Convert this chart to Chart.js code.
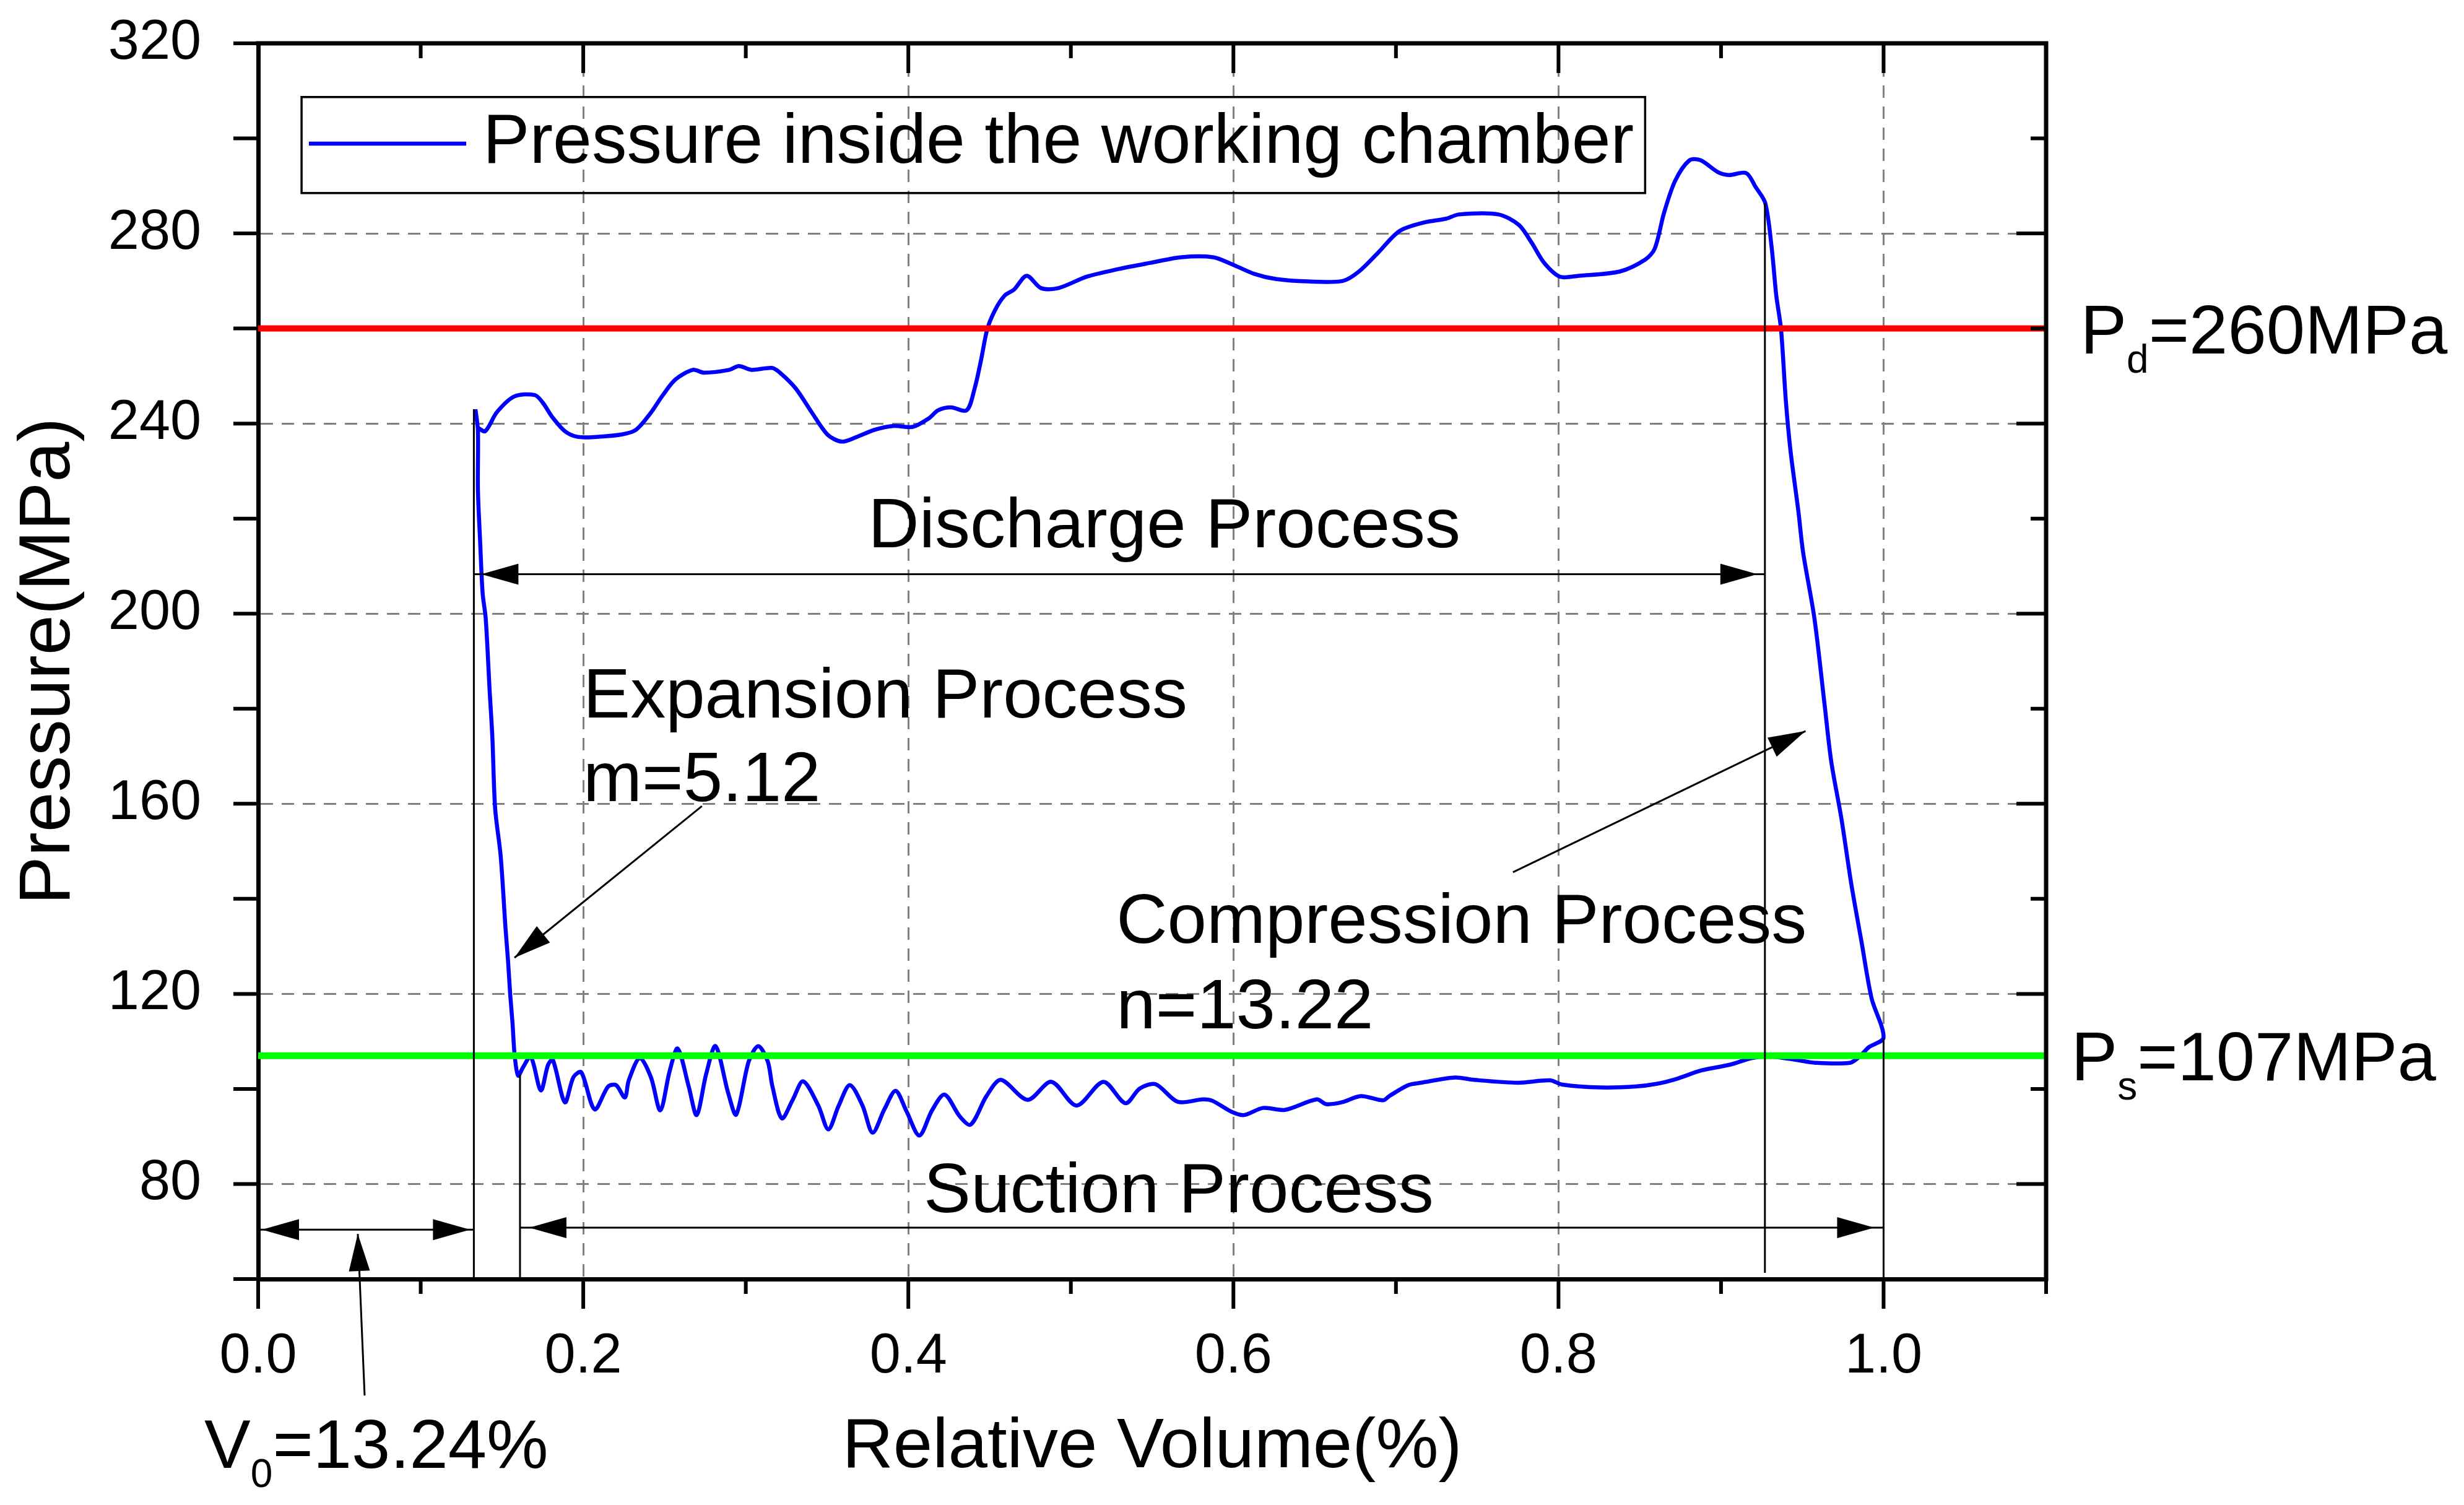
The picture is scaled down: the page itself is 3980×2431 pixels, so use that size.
<!DOCTYPE html>
<html>
<head>
<meta charset="utf-8">
<script src="https://cdn.jsdelivr.net/npm/chart.js@4.4.1/dist/chart.umd.min.js"></script>
<style>
  html, body { margin: 0; padding: 0; background: #fff; }
  canvas { display: block; }
</style>
</head>
<body>
<canvas id="pvChart" width="3980" height="2431"></canvas>
<script>
// relative volume / pressure loop
// order: expansion -> suction -> compression -> discharge
const volume = [
  0.1337, 0.1352, 0.1352, 0.1366, 0.1381, 0.1400, 0.1424, 0.1441, 0.1458, 0.1492,
  0.1522, 0.1537, 0.1551, 0.1565, 0.1578, 0.1599,
  0.1629, 0.1677, 0.1739, 0.1784, 0.1813, 0.1887, 0.1940, 0.1988, 0.2070, 0.2153,
  0.2202, 0.2256, 0.2280, 0.2348, 0.2416, 0.2474, 0.2532, 0.2581, 0.2649, 0.2698,
  0.2756, 0.2814, 0.2892, 0.2941, 0.3018, 0.3077, 0.3135, 0.3164, 0.3222, 0.3290,
  0.3353, 0.3446, 0.3508, 0.3572, 0.3640, 0.3718, 0.3780, 0.3854, 0.3922, 0.3990,
  0.4068, 0.4146, 0.4223, 0.4317, 0.4384, 0.4481, 0.4569, 0.4734, 0.4880, 0.5035,
  0.5200, 0.5336, 0.5424, 0.5521, 0.5657, 0.5813, 0.5871, 0.5988, 0.6065, 0.6182,
  0.6318, 0.6512, 0.6571, 0.6668, 0.6784, 0.6920, 0.6959, 0.7076, 0.7154, 0.7364,
  0.7481, 0.7753, 0.7947, 0.8025, 0.8258, 0.8472, 0.8608, 0.8725, 0.8880, 0.9055,
  0.9191, 0.9308, 0.9463, 0.9580, 0.9793, 0.9852, 0.9910, 1.0000,
  0.9926, 0.9864, 0.9802, 0.9740, 0.9678, 0.9637, 0.9575, 0.9505, 0.9476, 0.9428,
  0.9399, 0.9369, 0.9340, 0.9311, 0.9272,
  0.9214, 0.9155, 0.9049, 0.8981, 0.8874, 0.8806, 0.8718, 0.8650, 0.8592, 0.8534,
  0.8378, 0.8125, 0.8009, 0.7912, 0.7834, 0.7756, 0.7630, 0.7387, 0.7309, 0.7173,
  0.7022, 0.6886, 0.6769, 0.6672, 0.6458, 0.6264, 0.6128, 0.5992, 0.5875, 0.5681,
  0.5487, 0.5292, 0.5098, 0.4923, 0.4816, 0.4728, 0.4651, 0.4592, 0.4534, 0.4486,
  0.4447, 0.4408, 0.4359, 0.4262, 0.4184, 0.4126, 0.4027, 0.3911, 0.3794, 0.3677,
  0.3589, 0.3502, 0.3405, 0.3307, 0.3210, 0.3161, 0.3035, 0.2957, 0.2899, 0.2743,
  0.2675, 0.2568, 0.2490, 0.2412, 0.2325, 0.2237, 0.2082, 0.1965, 0.1887, 0.1809,
  0.1751, 0.1702, 0.1576, 0.1469, 0.1397, 0.1352
];
const pressure = [
  243.0, 238.5, 226.2, 214.9, 204.3, 199.0, 183.9, 173.9, 159.0, 149.0,
  133.7, 127.1, 119.7, 113.8, 107.1, 102.8,
  104.5, 106.8, 99.7, 105.1, 106.1, 97.2, 102.5, 103.5, 95.7, 100.5,
  100.8, 98.2, 101.8, 106.5, 102.5, 95.5, 103.8, 108.5, 100.5, 94.5,
  103.1, 109.0, 99.1, 94.6, 105.8, 109.0, 105.8, 100.5, 93.8, 97.8,
  101.6, 96.5, 91.5, 96.5, 100.8, 96.5, 90.8, 95.8, 99.6, 95.2,
  90.2, 95.5, 98.8, 94.2, 92.5, 98.5, 101.9, 97.7, 101.5, 96.5,
  101.5, 97.0, 100.1, 101.0, 97.3, 97.8, 97.5, 95.2, 94.5, 96.0,
  95.6, 97.8, 96.8, 97.2, 98.5, 97.6, 98.5, 100.8, 101.3, 102.4,
  101.9, 101.3, 101.8, 100.9, 100.3, 100.5, 101.1, 102.1, 103.9, 105.1,
  106.5, 106.8, 106.1, 105.5, 105.5, 106.8, 108.8, 110.8,
  119.1, 131.0, 143.0, 157.0, 168.9, 180.9, 198.9, 212.9, 221.5, 234.1,
  244.7, 259.9, 266.9, 277.2, 286.4,
  289.7, 292.7, 292.3, 292.9, 295.4, 295.4, 291.1, 284.4, 276.8, 274.5,
  272.0, 271.1, 270.9, 273.8, 278.1, 281.8, 284.0, 284.0, 283.1, 282.3,
  280.5, 275.8, 271.9, 270.0, 269.9, 270.4, 271.5, 273.5, 275.0, 275.0,
  273.8, 272.5, 270.9, 268.5, 268.5, 271.1, 268.2, 266.9, 263.9, 259.9,
  253.3, 247.4, 242.8, 243.4, 242.8, 241.1, 239.3, 239.5, 238.7, 237.1,
  236.2, 237.7, 242.4, 247.4, 250.7, 251.7, 251.3, 252.1, 251.3, 250.7,
  251.3, 249.3, 246.0, 242.1, 238.7, 237.7, 237.2, 237.2, 238.4, 241.4,
  244.4, 246.0, 245.7, 242.4, 238.4, 239.1
];

const seriesLabel = 'Pressure inside the working chamber';
const dischargePressure = 260;   // Pd
const suctionPressure = 107;     // Ps
const xRange = [0, 1.1];
const yRange = [60, 320];
const xTickValues = [0, 0.2, 0.4, 0.6, 0.8, 1.0];
const yTickValues = [80, 120, 160, 200, 240, 280, 320];

// annotation geometry, in data units
const guideLines = [   // [x, yFrom, yTo]
  [0.1327, 60, 243],
  [0.1611, 60, 103],
  [0.9270, 61.3, 286.4],
  [1.0000, 60, 110.6]
];
const arrows = [       // [x1, y1, x2, y2, headAtStart, headAtEnd, tipInset(px)]
  [0.1327, 208.3, 0.9270, 208.3, true, true, 12],
  [0.0000, 70.4, 0.1327, 70.4, true, true, 6],
  [0.1611, 70.8, 1.0000, 70.8, true, true, 15],
  [0.2730, 159.5, 0.1577, 127.6, false, true, 0],
  [0.7720, 145.6, 0.9520, 175.3, false, true, 0],
  [0.0655, 35.5, 0.0613, 69.5, false, true, 0]
];
const notes = [        // [text, x, y] left aligned, vertically centred
  ['Discharge Process', 0.3753, 218.0],
  ['Expansion Process', 0.2000, 182.2],
  ['m=5.12', 0.2000, 164.6],
  ['Compression Process', 0.5280, 134.8],
  ['n=13.22', 0.5280, 116.9],
  ['Suction Process', 0.4095, 78.2]
];

const FONT = '"Liberation Sans", Arial, sans-serif';
Chart.defaults.font.family = FONT;
Chart.defaults.color = '#000';

function pts(xs, ys) {
  return xs.map((v, i) => ({ x: v, y: ys[i] }));
}

function drawHead(ctx, tx, ty, ang) {
  const L = 60, W = 17;
  const c = Math.cos(ang), s = Math.sin(ang);
  ctx.beginPath();
  ctx.moveTo(tx, ty);
  ctx.lineTo(tx - L * c + W * s, ty - L * s - W * c);
  ctx.lineTo(tx - L * c - W * s, ty - L * s + W * c);
  ctx.closePath();
  ctx.fill();
}

// text with subscripts: parts = [[text, isSub], ...]
function drawParts(ctx, parts, x, baseline) {
  parts.forEach(([t, sub]) => {
    ctx.font = (sub ? '64px ' : '112px ') + FONT;
    ctx.fillText(t, x, sub ? baseline + 31 : baseline);
    x += ctx.measureText(t).width;
  });
}

const decor = {
  id: 'decor',
  afterDraw(chart) {
    const { ctx, chartArea: a, scales: { x, y } } = chart;
    const px = v => x.getPixelForValue(v);
    const py = v => y.getPixelForValue(v);
    ctx.save();

    // top and right frame
    ctx.strokeStyle = '#000';
    ctx.lineWidth = 7;
    ctx.beginPath();
    ctx.moveTo(a.left - 3.5, a.top);
    ctx.lineTo(a.right + 3.5, a.top);
    ctx.moveTo(a.right, a.top);
    ctx.lineTo(a.right, a.bottom + 3.5);
    ctx.stroke();

    // tick marks on all four sides
    ctx.lineWidth = 6;
    ctx.beginPath();
    for (let i = 0; i <= 11; i++) {
      const v = i / 10, p = px(v), len = i % 2 === 0 ? 48 : 24;
      ctx.moveTo(p, a.bottom); ctx.lineTo(p, a.bottom + len);
      ctx.moveTo(p, a.top); ctx.lineTo(p, a.top + len);
    }
    for (let v = 60; v <= 320; v += 20) {
      const p = py(v), major = (v - 80) % 40 === 0;
      ctx.moveTo(a.left - 40, p); ctx.lineTo(a.left, p);
      ctx.moveTo(a.right, p); ctx.lineTo(a.right - (major ? 48 : 25), p);
    }
    ctx.stroke();

    // legend box
    const lx0 = px(0.0267), lx1 = px(0.8533), ly0 = py(308.7), ly1 = py(288.5);
    ctx.lineWidth = 3.5;
    ctx.strokeRect(lx0, ly0, lx1 - lx0, ly1 - ly0);
    ctx.strokeStyle = '#0000ff';
    ctx.lineWidth = 6.5;
    ctx.beginPath();
    ctx.moveTo(px(0.0312), py(298.9));
    ctx.lineTo(px(0.1280), py(298.9));
    ctx.stroke();
    ctx.fillStyle = '#000';
    ctx.font = '113px ' + FONT;
    ctx.textBaseline = 'middle';
    ctx.textAlign = 'left';
    ctx.fillText(seriesLabel, px(0.1383), py(298.9));

    // guide lines
    ctx.strokeStyle = '#000';
    ctx.lineWidth = 3;
    ctx.beginPath();
    guideLines.forEach(([gx, g0, g1]) => {
      ctx.moveTo(px(gx), py(g0));
      ctx.lineTo(px(gx), py(g1));
    });
    ctx.stroke();

    // arrows
    ctx.fillStyle = '#000';
    arrows.forEach(([x1, y1, x2, y2, hs, he, inset]) => {
      const X1 = px(x1), Y1 = py(y1), X2 = px(x2), Y2 = py(y2);
      ctx.beginPath();
      ctx.moveTo(X1, Y1);
      ctx.lineTo(X2, Y2);
      ctx.stroke();
      const ang = Math.atan2(Y2 - Y1, X2 - X1);
      const c = Math.cos(ang), s = Math.sin(ang);
      if (he) drawHead(ctx, X2 - inset * c, Y2 - inset * s, ang);
      if (hs) drawHead(ctx, X1 + inset * c, Y1 + inset * s, ang + Math.PI);
    });

    // notes inside the plot
    ctx.font = '114px ' + FONT;
    ctx.textBaseline = 'middle';
    notes.forEach(([t, nx, ny]) => ctx.fillText(t, px(nx), py(ny)));

    // Pd, Ps and V0 labels
    ctx.textBaseline = 'alphabetic';
    drawParts(ctx, [['P', false], ['d', true], ['=' + dischargePressure + 'MPa', false]],
      px(1.1211), py(dischargePressure) + 40);
    drawParts(ctx, [['P', false], ['s', true], ['=' + suctionPressure + 'MPa', false]],
      px(1.1154), py(suctionPressure) + 40);
    drawParts(ctx, [['V', false], ['0', true], ['=13.24%', false]],
      px(-0.0331), a.bottom + 305);

    ctx.restore();
  }
};

new Chart(document.getElementById('pvChart'), {
  type: 'scatter',
  data: {
    datasets: [
      {
        label: 'Pd',
        data: pts(xRange, [dischargePressure, dischargePressure]),
        showLine: true, borderColor: '#ff0000', borderWidth: 10,
        pointRadius: 0, order: 0
      },
      {
        label: 'Ps',
        data: pts(xRange, [suctionPressure, suctionPressure]),
        showLine: true, borderColor: '#00ff00', borderWidth: 11,
        pointRadius: 0, order: 0
      },
      {
        label: seriesLabel,
        data: pts(volume, pressure),
        showLine: true, borderColor: '#0000ff', borderWidth: 6.5,
        pointRadius: 0, tension: 0.3, order: 1
      }
    ]
  },
  options: {
    responsive: false,
    devicePixelRatio: 1,
    animation: false,
    layout: { padding: { top: 70, right: 675, left: 0, bottom: 0 } },
    plugins: { legend: { display: false }, tooltip: { enabled: false } },
    scales: {
      x: {
        type: 'linear', min: xRange[0], max: xRange[1],
        afterBuildTicks: s => { s.ticks = xTickValues.map(v => ({ value: v })); },
        afterFit: s => { s.height = 365; s.paddingLeft = 0; s.paddingRight = 0; },
        ticks: { font: { size: 90 }, color: '#000', padding: 72, maxRotation: 0, autoSkip: false,
                 callback: v => Number(v).toFixed(1) },
        grid: { color: '#808080', lineWidth: 3, drawTicks: false },
        border: { display: true, color: '#000', width: 7, dash: [20, 14] },
        title: { display: true, text: 'Relative Volume(%)', color: '#000',
                 font: { size: 114 }, padding: { top: 0, bottom: 24 } }
      },
      y: {
        type: 'linear', min: yRange[0], max: yRange[1],
        afterBuildTicks: s => { s.ticks = yTickValues.map(v => ({ value: v })); },
        afterFit: s => { s.width = 417; s.paddingTop = 0; s.paddingBottom = 0; },
        ticks: { font: { size: 90 }, color: '#000', padding: 92, autoSkip: false,
                 callback: v => String(v) },
        grid: { color: '#808080', lineWidth: 3, drawTicks: false },
        border: { display: true, color: '#000', width: 7, dash: [20, 14] },
        title: { display: true, text: 'Pressure(MPa)', color: '#000',
                 font: { size: 117 }, padding: { top: 10, bottom: 0 } }
      }
    }
  },
  plugins: [decor]
});
</script>
</body>
</html>
